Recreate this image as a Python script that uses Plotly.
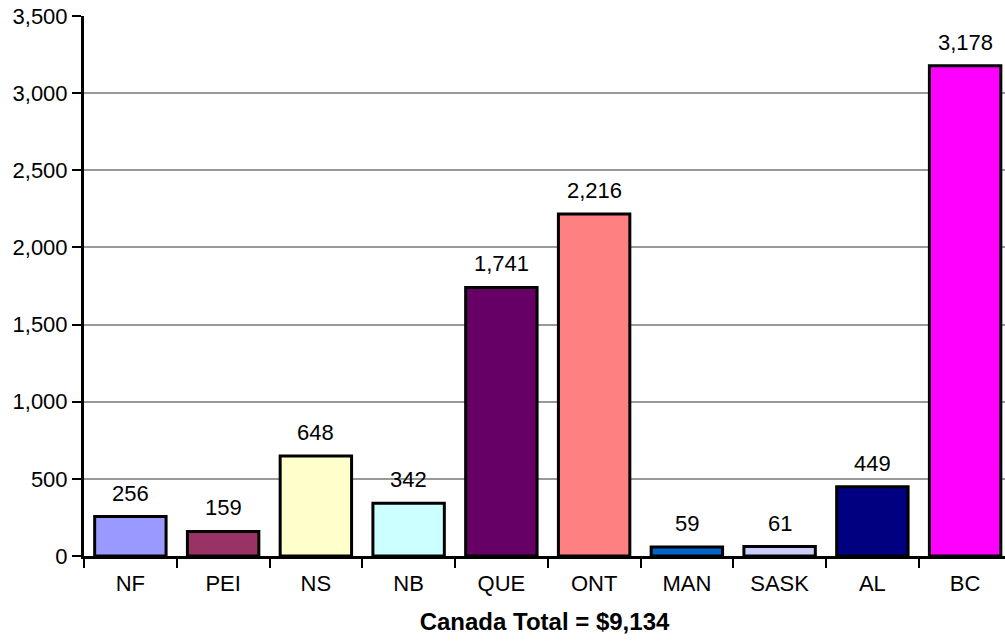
import plotly.graph_objects as go

provinces = ["NF", "PEI", "NS", "NB", "QUE", "ONT", "MAN", "SASK", "AL", "BC"]
values = [256, 159, 648, 342, 1741, 2216, 59, 61, 449, 3178]
colors = ["#9999FF", "#993366", "#FFFFCC", "#CCFFFF", "#660066",
          "#FF8080", "#0066CC", "#CCCCFF", "#000080", "#FF00FF"]
y_ticks = [0, 500, 1000, 1500, 2000, 2500, 3000, 3500]
title_text = "Canada Total = $9,134"

FONT = "Liberation Sans, Arial, sans-serif"

fig = go.Figure(go.Bar(
    x=provinces, y=values,
    marker=dict(color=colors, line=dict(color="black", width=3)),
    cliponaxis=False,
    hoverinfo="x+y",
))

for p, v in zip(provinces, values):
    fig.add_annotation(
        x=p, y=v, text=f"{v:,}", showarrow=False,
        xanchor="center", yanchor="bottom", yshift=9,
        font=dict(family=FONT, size=22, color="black"),
    )

fig.update_layout(
    width=1005, height=643,
    margin=dict(l=84, r=0, t=16, b=87),
    plot_bgcolor="white", paper_bgcolor="white",
    bargap=0.23,
    showlegend=False,
    font=dict(family=FONT, size=22, color="black"),
    xaxis=dict(
        type="category",
        range=[-0.5, 9.43],
        showline=True, linecolor="black", linewidth=3,
        ticks="outside", tickson="boundaries", ticklen=9, tickwidth=2, tickcolor="black",
        showgrid=False,
        ticklabelstandoff=6,
        tickfont=dict(family=FONT, size=22, color="black"),
        title=dict(text=f"<b>{title_text}</b>", font=dict(family=FONT, size=24, color="black"), standoff=18),
    ),
    yaxis=dict(
        range=[0, 3500],
        tickvals=y_ticks,
        tickformat=",",
        showline=True, linecolor="black", linewidth=3,
        ticks="outside", ticklen=9, tickwidth=2, tickcolor="black",
        showgrid=True, gridcolor="#999999", gridwidth=2,
        zeroline=False,
        tickfont=dict(family=FONT, size=22, color="black"),
    ),
)

fig.write_html("out.html", config={"displayModeBar": False},
               post_script="document.body.style.margin='0';")
